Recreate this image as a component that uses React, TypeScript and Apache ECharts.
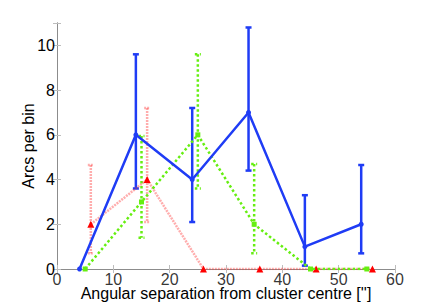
import React, { useEffect, useRef } from "react";
import * as echarts from "echarts";

const blueX = [4, 14, 24, 34, 44, 54];
const blueY = [0, 6, 4, 7, 1, 2];
const blueErrLow = [0, 3.6, 2.1, 4.4, 0.15, 0.7];
const blueErrHigh = [0, 9.6, 7.2, 10.8, 3.3, 4.65];

const greenX = [5, 15, 25, 35, 45, 55];
const greenY = [0, 3, 6, 2, 0, 0];
const greenErrLow = [0, 1.4, 3.6, 0.7, 0, 0];
const greenErrHigh = [0, 5.95, 9.6, 4.7, 0, 0];

const redX = [6, 16, 26, 36, 46, 56];
const redY = [2, 4, 0, 0, 0, 0];
const redErrLow = [0.7, 2.1, 0, 0, 0, 0];
const redErrHigh = [4.65, 7.2, 0, 0, 0, 0];

const xTicks = [0, 10, 20, 30, 40, 50, 60];
const yTicks = [0, 2, 4, 6, 8, 10];
const xTitle = "Angular separation from cluster centre ['']";
const yTitle = "Arcs per bin";

const BLUE = "#1f3cf5";
const GREEN = "#66ee11";
const RED = "#ff3333";
const FONT = "Liberation Sans";

function errSeries(xs: number[], lo: number[], hi: number[], color: string, width: number, dash: any, opacity: number) {
  const data = xs
    .map((x, i) => [x, lo[i], hi[i]])
    .filter((d) => d[2] - d[1] > 0.01);
  return {
    type: "custom",
    xAxisIndex: 0,
    yAxisIndex: 0,
    data,
    encode: { x: 0, y: [1, 2] },
    z: 2,
    silent: true,
    renderItem: (params: any, api: any) => {
      const x = api.value(0);
      const lowP = api.coord([x, api.value(1)]);
      const highP = api.coord([x, api.value(2)]);
      const cap = 3;
      const style = { stroke: color, lineWidth: width, lineDash: dash, opacity };
      return {
        type: "group",
        children: [
          { type: "line", shape: { x1: highP[0], y1: highP[1], x2: lowP[0], y2: lowP[1] }, style },
          { type: "line", shape: { x1: highP[0] - cap, y1: highP[1], x2: highP[0] + cap, y2: highP[1] }, style },
          { type: "line", shape: { x1: lowP[0] - cap, y1: lowP[1], x2: lowP[0] + cap, y2: lowP[1] }, style },
        ],
      };
    },
  };
}

export default function App() {
  const ref = useRef<HTMLDivElement>(null);
  useEffect(() => {
    const chart = echarts.init(ref.current!, null, { renderer: "svg" });
    const axisCommon = {
      type: "value",
      axisLine: { show: true, lineStyle: { color: "#8c8c8c", width: 1 } },
      axisTick: { show: true, inside: true, length: 4, lineStyle: { color: "#bdbdbd" } },
      splitLine: { show: false },
    };
    chart.setOption({
      animation: false,
      backgroundColor: "#ffffff",
      grid: { left: 57, right: 41, top: 23, bottom: 34 },
      xAxis: [
        {
          ...axisCommon,
          min: 0,
          max: 60,
          interval: 10,
          position: "bottom",
          axisLabel: { show: false },
        },
        { ...axisCommon, min: 0, max: 60, interval: 10, position: "top", axisLabel: { show: false } },
      ],
      yAxis: [
        {
          ...axisCommon,
          min: 0,
          max: 11,
          interval: 2,
          position: "left",
          axisLabel: { show: true, color: "#000", fontFamily: FONT, fontSize: 16, margin: 2,
            formatter: (v: number) => (yTicks.includes(v) ? String(v) : "") },
        },
        { ...axisCommon, min: 0, max: 11, interval: 2, position: "right", axisLabel: { show: false } },
      ],
      graphic: [
        {
          type: "text",
          x: 226,
          y: 293,
          style: { text: xTitle, fill: "#000", font: `16px ${FONT}`, align: "center", verticalAlign: "middle" },
        },
        {
          type: "text",
          x: 28,
          y: 146,
          rotation: Math.PI / 2,
          style: { text: yTitle, fill: "#000", font: `16px ${FONT}`, align: "center", verticalAlign: "middle" },
        },
      ],
      series: [
        {
          type: "scatter",
          data: xTicks.map((v) => [v, 0]),
          symbolSize: 0,
          silent: true,
          clip: false,
          z: 1,
          label: {
            show: true,
            position: "bottom",
            distance: 2,
            color: "#000",
            fontFamily: FONT,
            fontSize: 16,
            formatter: (p: any) => String(p.value[0]),
          },
        },
        errSeries(redX, redErrLow, redErrHigh, RED, 2.5, [2, 1], 0.4),
        errSeries(greenX, greenErrLow, greenErrHigh, GREEN, 2.5, [2.5, 2.5], 1),
        errSeries(blueX, blueErrLow, blueErrHigh, BLUE, 2.5, null, 1),
        {
          type: "line",
          data: redX.map((x, i) => [x, redY[i]]),
          lineStyle: { color: RED, width: 2.5, type: [2, 1], opacity: 0.4 },
          itemStyle: { color: "#ff0000" },
          symbol: "triangle",
          symbolSize: 7,
          z: 3,
        },
        {
          type: "line",
          data: greenX.map((x, i) => [x, greenY[i]]),
          lineStyle: { color: GREEN, width: 2.5, type: [2.5, 2.5] },
          itemStyle: { color: GREEN },
          symbol: "rect",
          symbolSize: 5,
          z: 4,
        },
        {
          type: "line",
          data: blueX.map((x, i) => [x, blueY[i]]),
          lineStyle: { color: BLUE, width: 2.5 },
          itemStyle: { color: BLUE },
          symbol: "circle",
          symbolSize: 5,
          z: 5,
        },
      ],
    });
    return () => chart.dispose();
  }, []);
  return <div ref={ref} style={{ position: "fixed", left: 0, top: 0, width: 436, height: 303 }} />;
}
